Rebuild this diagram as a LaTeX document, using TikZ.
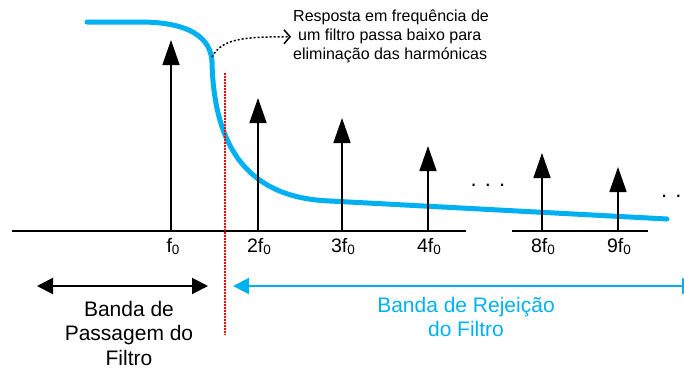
\documentclass[tikz,border=0pt]{standalone}
\usepackage{fontspec}
\setmainfont{Liberation Sans}
\usetikzlibrary{arrows.meta}
\definecolor{filterblue}{HTML}{00B0F0}
\newcommand{\fzero}{f\raisebox{-2.5pt}{\fontsize{13.5}{14}\selectfont 0}}

\begin{document}
\begin{tikzpicture}[x=1pt, y=-1pt,
                    harmonic/.style={line width=1.6pt, -{Triangle[width=17pt,length=25pt]}},
                    freq label/.style={anchor=base, inner sep=0pt, font=\fontsize{19.5}{22}\selectfont},
                    band/.style={line width=2pt, {Triangle[width=16pt,length=16pt]}-{Triangle[width=16pt,length=16pt]}},
                    band text/.style={anchor=north, inner sep=0pt, align=center, font=\fontsize{21}{24.5}\selectfont}
]
\useasboundingbox (0,0) rectangle (684,367);

\draw[filterblue, line width=5pt, line cap=round]
  (87,22) -- (140,22) .. controls (190,22) and (211,38) .. (212,62)
  .. controls (214,150) and (250,198) .. (330,201) -- (667,219);
\coordinate (knee) at (212,57);
%
\coordinate (ax1) at (12,231);
\coordinate (ax2) at (466,231);
\coordinate (ax3) at (512,231);
\coordinate (ax4) at (648,231);
\draw[line width=2.4pt] (ax1) -- (ax2);
\draw[line width=2.4pt] (ax3) -- (ax4);

\coordinate (base1) at (171,231);
\coordinate (base2) at (258,231);
\coordinate (base3) at (342,231);
\coordinate (base4) at (428,231);
\coordinate (base8) at (542,231);
\coordinate (base9) at (618,231);
\coordinate (top1) at (171,40);
\coordinate (top2) at (258,98);
\coordinate (top3) at (342,118);
\coordinate (top4) at (428,146);
\coordinate (top8) at (542,153);
\coordinate (top9) at (618,167);
\draw[harmonic] (base1) -- (top1);
\draw[harmonic] (base2) -- (top2);
\draw[harmonic] (base3) -- (top3);
\draw[harmonic] (base4) -- (top4);
\draw[harmonic] (base8) -- (top8);
\draw[harmonic] (base9) -- (top9);

\node[freq label] (f1) at (173,252) {\fzero};
\node[freq label] (f2) at (259,252) {2\fzero};
\node[freq label] (f3) at (343,252) {3\fzero};
\node[freq label] (f4) at (429,252) {4\fzero};
\node[freq label] (f8) at (543,252) {8\fzero};
\node[freq label] (f9) at (619,252) {9\fzero};
\node[anchor=base, font=\fontsize{22}{22}\selectfont] (dots1) at (488,186) {. . .};
\node[anchor=base west, inner sep=0pt, font=\fontsize{22}{22}\selectfont] (dots2) at (661,197) {. . .};
%
\coordinate (cut1) at (225,73);
\coordinate (cut2) at (225,335);
\draw[red, line width=1.5pt, dash pattern=on 1.5pt off 1.5pt] (cut1) -- (cut2);

\node[anchor=north west, inner sep=2pt, align=left, font=\fontsize{16}{19}\selectfont] (resp) at (291,8)
  {Resposta em frequência de\\\hspace*{5pt}um filtro passa baixo para\\eliminação das harmónicas};
\draw[line width=1.5pt, dash pattern=on 2pt off 2pt, -{Straight Barb[length=6pt,width=14pt]}]
  (knee) .. controls (222,38) and (245,37) .. (resp.west);
%
\coordinate (pass1) at (37,286);
\coordinate (pass2) at (208,286);
\draw[band] (pass1) -- (pass2);
\node[band text] (passtxt) at (129,301) {Banda de\\Passagem do\\Filtro};

\coordinate (rej1) at (233,286);
\coordinate (rej2) at (698,286);
\draw[band, filterblue] (rej1) -- (rej2);
\node[band text, text=filterblue] (rejtxt) at (466,297) {Banda de Rejeição\\do Filtro};
\end{tikzpicture}
\end{document}
